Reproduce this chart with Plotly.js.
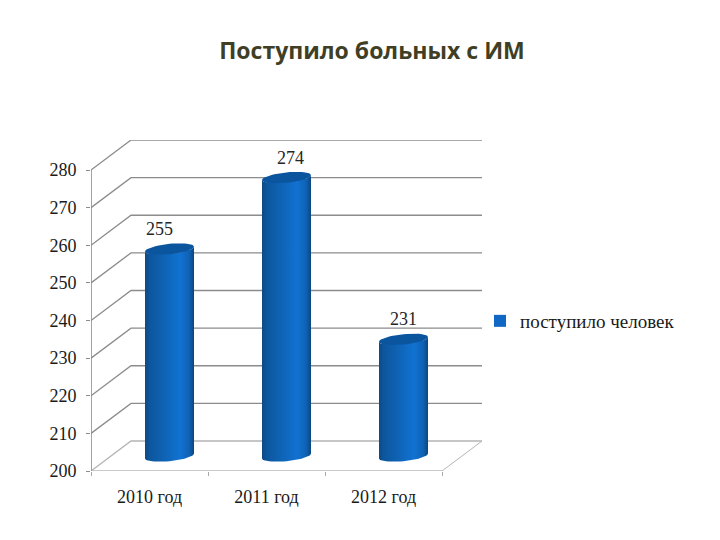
<!DOCTYPE html>
<html><head><meta charset="utf-8">
<script src="https://cdn.plot.ly/plotly-3.0.1.min.js"></script>
<style>html,body{margin:0;padding:0;background:#fff}</style></head>
<body><div id="chart" style="width:720px;height:540px"></div>
<script>
const categories = ['2010 год','2011 год','2012 год'];
const values = [255,274,231];
const seriesName = 'поступило человек';
const yTicks = [200,210,220,230,240,250,260,270,280];
const labelNudgePx = [-10,4,0];

const unitX = 117, unitY = 3.7625;           // px per axis unit
const depthX = 40/unitX, depthY = 30/unitY;  // 3D wall offset
const xL = -0.5, xR = 2.5, yMin = 200;
const gridColor = '#8c8c8c';
const traces = [];
const line = (x,y,color,width)=>traces.push({type:'scatter',mode:'lines',x,y,
  line:{color,width},showlegend:false,hoverinfo:'skip'});

// back wall and side wall gridlines
yTicks.forEach(v=>{
  line([xL,xL+depthX,xR+depthX],[v,v+depthY,v+depthY], v===yMin?'#b4b4b4':gridColor, 1.3);
});
line([xR,xR+depthX],[yMin,yMin+depthY],'#b4b4b4',1);
line([xL,xR],[yMin,yMin],'#b8b8b8',1.5);
line([xL,xL],[yMin,yTicks[yTicks.length-1]],'#8c8c8c',1.6);

// cylinder geometry (mid-depth plane)
const cxOf = i => i + depthX/2;
const midY = depthY/2;
const barWidth = 49/unitX;
const a = barWidth/2, b = 5.2/unitY, tilt = 2.4/unitY;
const T = Array.from({length:49},(_,k)=>k/48*2*Math.PI);

// real bars carry the series and legend entry
traces.push({type:'bar',x:categories.map((_,i)=>cxOf(i)),y:values.map(v=>v-yMin),
  base:values.map(()=>yMin+midY),width:barWidth*0.8,name:seriesName,
  marker:{color:'#1068c4',line:{width:0}},showlegend:true,hoverinfo:'skip'});

values.forEach((v,i)=>{
  const cx = cxOf(i), top = v+midY, bot = yMin+midY;
  const arc = (cy,from,to)=>{const xs=[],ys=[];for(let k=0;k<=24;k++){
      const t=from+(to-from)*k/24;
      xs.push(cx+a*Math.cos(t));ys.push(cy+b*Math.sin(t)+tilt*Math.cos(t));}
    return [xs,ys];};
  const [bx,by]=arc(bot,Math.PI,2*Math.PI);
  const [tx,ty]=arc(top,0,-Math.PI);
  traces.push({type:'scatter',mode:'lines',x:bx.concat(tx),y:by.concat(ty),fill:'toself',
    line:{width:0,color:'rgba(0,0,0,0)'},
    fillgradient:{type:'horizontal',colorscale:[[0,'#0e4a84'],[0.1,'#0d569e'],[0.45,'#0f66ba'],
      [0.72,'#1172d2'],[0.9,'#0f62b4'],[1,'#0b4680']]},
    showlegend:false,hoverinfo:'skip'});
  traces.push({type:'scatter',mode:'lines',x:T.map(t=>cx+a*Math.cos(t)),
    y:T.map(t=>top+b*Math.sin(t)+tilt*Math.cos(t)),fill:'toself',fillcolor:'#0b559f',
    line:{width:0,color:'rgba(0,0,0,0)'},showlegend:false,hoverinfo:'skip'});
});

// data labels
traces.push({type:'scatter',mode:'text',
  x:values.map((_,i)=>cxOf(i)+labelNudgePx[i]/unitX),
  y:values.map(v=>v+midY+4.9),
  text:values.map(String),textposition:'middle center',
  textfont:{family:'Liberation Serif',size:18,color:'#262626'},
  showlegend:false,hoverinfo:'skip',cliponaxis:false});

const layout = {
  width:720,height:540,margin:{l:91,r:238,t:140,b:69},
  paper_bgcolor:'#fff',plot_bgcolor:'#fff',showlegend:true,bargap:0,
  title:{text:'<b>Поступило больных с ИМ</b>',x:372/720,xanchor:'center',y:1-51/540,yanchor:'middle',
    font:{family:'Open Sans',size:23,color:'#403f26'}},
  xaxis:{range:[xL,xR+depthX],tickmode:'array',tickvals:categories.map((_,i)=>i),ticktext:categories,
    ticks:'',showgrid:false,zeroline:false,showline:false,ticklabelstandoff:13,
    tickfont:{family:'Liberation Serif',size:18,color:'#1a1a1a'},
    minor:{tickmode:'array',tickvals:[-0.5,0.5,1.5,2.5],ticks:'outside',ticklen:4,tickcolor:'#aaaaaa',tickwidth:1,showgrid:false}},
  yaxis:{range:[yMin,yMin+331/unitY],tickmode:'array',tickvals:yTicks,ticks:'outside',ticklen:4,
    tickcolor:'#8c8c8c',tickwidth:1,showgrid:false,zeroline:false,showline:false,ticklabelstandoff:6,
    tickfont:{family:'Liberation Serif',size:18,color:'#1a1a1a'}},
  legend:{x:(490-91)/391,xref:'paper',y:1-(321-140)/331,yanchor:'middle',xanchor:'left',indentation:-10,
    bgcolor:'rgba(0,0,0,0)',font:{family:'Liberation Serif',size:19,color:'#1a1a1a'},itemwidth:30}
};
Plotly.newPlot('chart',traces,layout,{displayModeBar:false,staticPlot:true});
</script></body></html>
